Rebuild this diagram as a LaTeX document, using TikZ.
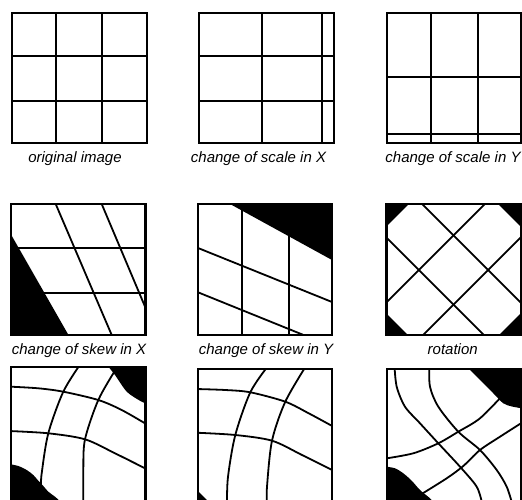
\documentclass[tikz,border=0pt]{standalone}
\usepackage{fontspec}
\setsansfont{Liberation Sans}

\begin{document}
\begin{tikzpicture}[
    x=1pt, y=-1pt,
    every node/.style={font=\sffamily\itshape\fontsize{15}{18}\selectfont, anchor=base, inner sep=0pt},
    frame/.style={line width=2.2pt},
    gridline/.style={line width=1.8pt},
]
\useasboundingbox (0,0) rectangle (522,500);
\clip (0,0) rectangle (522,500);

% === Original image ===
\draw[gridline] (56,13) -- (56,143);
\draw[gridline] (102,13) -- (102,143);
\draw[gridline] (12,56) -- (147,56);
\draw[gridline] (12,101) -- (147,101);
\draw[frame] (12,13) rectangle (147,143);
\node (capOrig) at (75,162) {original image};

% === Change of scale in X ===
\draw[gridline] (262,13) -- (262,143);
\draw[gridline] (322,13) -- (322,143);
\draw[gridline] (199,56) -- (334,56);
\draw[gridline] (199,101) -- (334,101);
\draw[frame] (199,13) rectangle (334,143);
\node (capScaleX) at (258.5,162) {change of scale in X};

% === Change of scale in Y ===
\draw[gridline] (431,13) -- (431,143);
\draw[gridline] (478,13) -- (478,143);
\draw[gridline] (387,77) -- (521,77);
\draw[gridline] (387,134) -- (521,134);
\draw[frame] (387,13) rectangle (521,143);
\node (capScaleY) at (453,162) {change of scale in Y};

% === Change of skew in X ===
\begin{scope}
  \clip (11,204) rectangle (145.5,335);
  \draw[gridline] (11,248) -- (146,248);
  \draw[gridline] (11,293) -- (146,293);
  \draw[gridline] (55.7,204) -- (111.7,335);
  \draw[gridline] (101.7,204) -- (157,335);
  \fill[black] (11,234.5) -- (68.5,335) -- (11,335) -- cycle;
\end{scope}
\draw[frame] (11,204) rectangle (145.5,335);
\node (capSkewX) at (79,354) {change of skew in X};

% === Change of skew in Y ===
\begin{scope}
  \clip (198,204) rectangle (332,335);
  \draw[gridline] (242,204) -- (242,335);
  \draw[gridline] (289,204) -- (289,335);
  \draw[gridline] (198,248) -- (332,302);
  \draw[gridline] (198,292.3) -- (332,346.5);
  \fill[black] (230,204) -- (332,260) -- (332,204) -- cycle;
\end{scope}
\draw[frame] (198,204) rectangle (332,335);
\node (capSkewY) at (266,354) {change of skew in Y};

% === Rotation ===
\begin{scope}
  \clip (386.5,204) rectangle (521,335);
  \fill[black] (386.5,204) rectangle (521,335);
  \begin{scope}[shift={(453.5,270)}, rotate=45]
    \fill[white] (-78,-78) rectangle (78,78);
    \draw[gridline] (-24.5,-78) -- (-24.5,78);
    \draw[gridline] (24.5,-78) -- (24.5,78);
    \draw[gridline] (-78,-24.5) -- (78,-24.5);
    \draw[gridline] (-78,24.5) -- (78,24.5);
  \end{scope}
\end{scope}
\draw[frame] (386.5,204) rectangle (521,335);
\node (capRot) at (452.7,354) {rotation};

% === Warp 1 ===
\begin{scope}
  \clip (11,367) rectangle (145.5,502);
  \draw[gridline] plot[smooth] coordinates {(9,386.6) (38.3,388.3) (63.3,391.7) (98.3,400) (121.7,410) (147,424.5)};
  \draw[gridline] plot[smooth] coordinates {(9,431) (48.3,433.3) (85,439.3) (115,453.3) (147,469.3)};
  \draw[gridline] plot[smooth] coordinates {(80.5,364) (63.3,391.7) (48.3,433.3) (41.7,473.3) (41,486)};
  \draw[gridline] plot[smooth] coordinates {(116,369) (98.3,400) (85,439.3) (83.3,470) (83.3,503)};
  \fill[black] plot[smooth] coordinates {(107,365) (115,375) (121.7,385) (126.7,391.7) (133.3,396.7) (141.7,401.7) (147,404)} -- (147,365) -- cycle;
  \fill[black] plot[smooth] coordinates {(9,464) (18.3,466) (26.7,470) (33.3,475) (38.3,480.7) (43.3,486) (48.3,491.7) (55,496.7) (62,503)} -- (9,503) -- cycle;
\end{scope}
\draw[frame] (11,367) rectangle (145.5,510);

% === Warp 2 ===
\begin{scope}
  \clip (198,369) rectangle (332,502);
  \draw[gridline] plot[smooth] coordinates {(196,389) (225.3,390) (250.3,392.3) (285.3,401.7) (308.7,413.3) (334,427)};
  \draw[gridline] plot[smooth] coordinates {(196,432.7) (235.3,435) (272,440.7) (302,455) (334,471)};
  \draw[gridline] plot[smooth] coordinates {(268,366) (250.3,392.3) (235.3,435) (228,476.7) (227,503)};
  \draw[gridline] plot[smooth] coordinates {(306,366) (285.3,401.7) (272,440.7) (267,486.7) (267,503)};
  \fill[black] (198,491) -- (209,502) -- (198,502) -- cycle;
\end{scope}
\draw[frame] (198,369) rectangle (332,510);

% === Warp 3 ===
\begin{scope}
  \clip (386.7,369) rectangle (521,502);
  \draw[gridline] plot[smooth] coordinates {(394.5,366) (396.7,386.7) (405,406.7) (420,423.3) (438.3,443.3) (460,466.7) (476.7,486.7) (482,503)};
  \draw[gridline] plot[smooth] coordinates {(429.3,366) (430,386.7) (438.3,406.7) (458.3,431.7) (480,450) (496.7,470) (506.7,486.7) (512,503)};
  \draw[gridline] plot[smooth] coordinates {(385,458.6) (413.3,453.3) (438.3,443.3) (458.3,431.7) (480,418.3) (503,395)};
  \draw[gridline] plot[smooth] coordinates {(420,495) (446.7,478.3) (463.3,466) (480,450) (500,436.7) (523,422)};
  \fill[black] plot[smooth] coordinates {(466,366) (480,380) (493.3,393.3) (503.3,403.3) (512,406.5) (523,408.5)} -- (523,366) -- cycle;
  \fill[black] plot[smooth] coordinates {(385,466.5) (395,468.3) (403.3,473.3) (411.7,480.7) (420,490) (430,498.3) (434,503)} -- (385,503) -- cycle;
\end{scope}
\draw[frame] (386.7,369) rectangle (521,510);

\end{tikzpicture}
\end{document}
